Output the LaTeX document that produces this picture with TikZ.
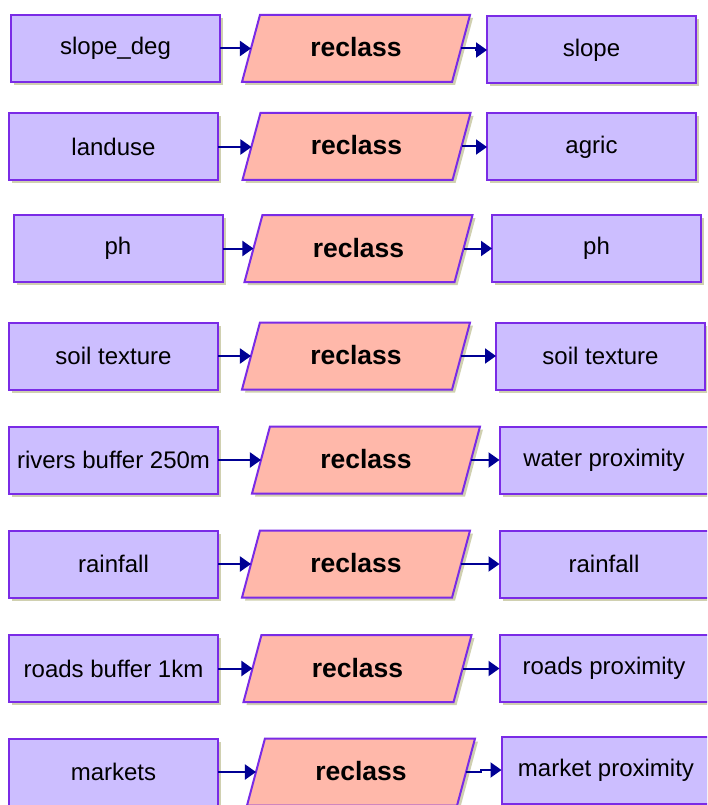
\documentclass[tikz,border=0pt]{standalone}
\usepackage{fontspec}
\setmainfont{Liberation Sans}
\usetikzlibrary{arrows.meta,shapes.geometric,shadows}

\definecolor{layerfill}{HTML}{CCBEFF}
\definecolor{layerdraw}{HTML}{7A2BE6}
\definecolor{toolfill}{HTML}{FFB8AA}
\definecolor{flowline}{HTML}{000094}
\definecolor{shadowkhaki}{HTML}{D0D0B0}

\tikzset{
  khakishadow/.style={drop shadow={shadow xshift=3pt, shadow yshift=-3pt,
      fill=shadowkhaki, opacity=1}},
  layer/.style={rectangle, draw=layerdraw, line width=2pt, fill=layerfill,
      minimum width=209pt, minimum height=67pt, inner sep=0pt, outer sep=0pt,
      font=\fontsize{24}{28}\selectfont, khakishadow},
  tool/.style={trapezium, trapezium left angle=75, trapezium right angle=105,
      trapezium stretches body, draw=layerdraw, line width=2pt, fill=toolfill,
      text height=18pt, text depth=1pt, inner xsep=0pt, inner ysep=24pt,
      minimum width=228pt, outer sep=0pt,
      font=\bfseries\fontsize{26.5}{30}\selectfont, khakishadow},
  flow/.style={draw=flowline, line width=2pt,
      -{Triangle[length=11pt,width=15pt]}}
}

\begin{document}
\begin{tikzpicture}[x=1pt,y=-1pt]
  \clip (0,0) rectangle (707,805);
  \fill[white] (0,0) rectangle (707,805);

  % one row per input layer: input -> reclass -> output
  \foreach \i/\lx/\ly/\px/\py/\rx/\ry/\intext/\outtext in {
      1/115.5/48.5/356/48.5/591.5/50/slope\_deg/slope,
      2/113.5/147/356.5/146.5/591.5/147/landuse/agric,
      3/118/248.5/358.5/248.5/596.5/248.5/ph/ph,
      4/113.5/356/356/356/600.5/356/soil texture/soil texture,
      5/113.5/460/366/460/604/460/rivers buffer 250m/water proximity,
      6/113.5/564/356/564/604/564/rainfall/rainfall,
      7/113.5/668.5/357.5/668.5/604/668.5/roads buffer 1km/roads proximity,
      8/113.5/772/361/772/606/770/markets/market proximity}{
    \node[layer] (in\i) at (\lx,\ly) {\intext};
    \node[tool] (tool\i) at (\px,\py) {reclass};
    \node[layer] (out\i) at (\rx,\ry) {\outtext};
    \draw[flow] (in\i.east) -- (in\i.east -| tool\i.left side);
    \draw[flow] (tool\i.right side) -- ++(15,0) |- (out\i.west);
  }
\end{tikzpicture}
\end{document}
